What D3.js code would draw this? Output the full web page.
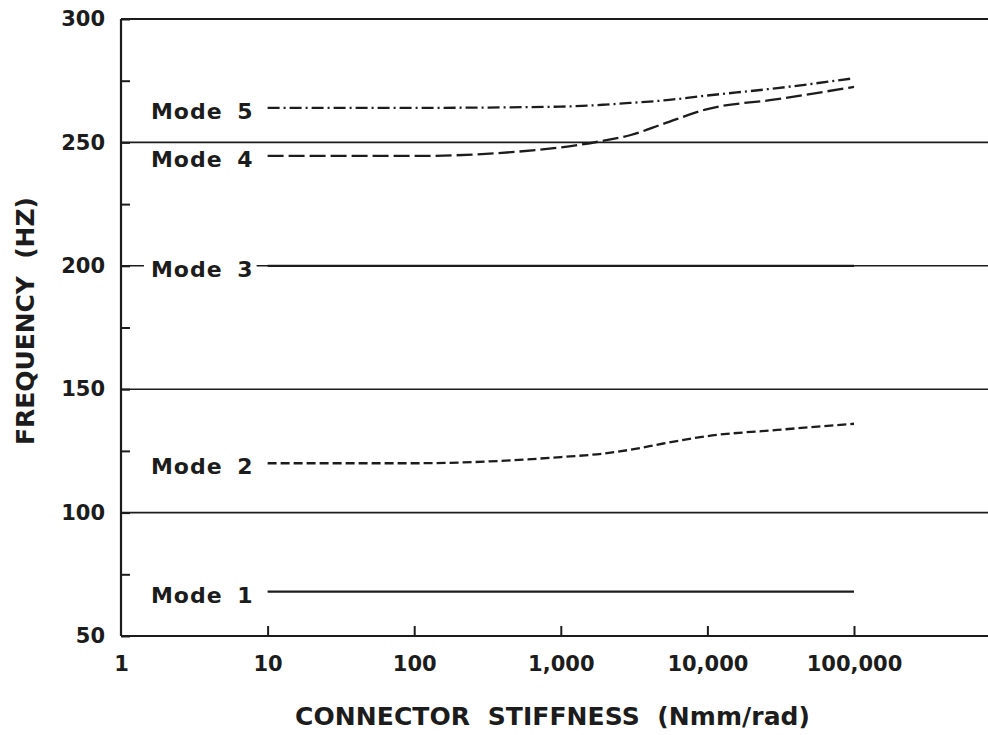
<!DOCTYPE html>
<html>
<head>
<meta charset="utf-8">
<script src="https://cdn.jsdelivr.net/npm/d3@7"></script>
<style>
  html, body { margin: 0; padding: 0; background: #fff; }
  svg text { font-family: "DejaVu Sans", sans-serif; font-weight: bold; fill: #1c1c1c; white-space: pre; }
  .axis path { display: none; }
  .axis line { stroke: #1c1c1c; stroke-width: 2; }
</style>
</head>
<body>
<div id="chart"></div>
<script>
"use strict";

// Data
// ------------------------

var stiffness = [10, 100, 1000, 2000, 3000, 5000, 10000, 30000, 100000];

var mode1 = [68, 68, 68, 68, 68, 68, 68, 68, 68];
var mode2 = [120, 120, 122.5, 124, 125.5, 128, 131, 133.5, 136];
var mode3 = [200, 200, 200, 200, 200, 200, 200, 200, 200];
var mode4 = [244.5, 244.5, 248, 250.8, 253, 257.5, 263.5, 267.5, 272.5];
var mode5 = [264, 264, 264.5, 265.3, 266, 267, 269, 272, 276];

var modeNames = ["Mode 1", "Mode 2", "Mode 3", "Mode 4", "Mode 5"];

var xTicks = [1, 10, 100, 1000, 10000, 100000];
var xTickLabels = ["1", "10", "100", "1,000", "10,000", "100,000"];
var yTicks = [50, 75, 100, 125, 150, 175, 200, 225, 250, 275, 300];
var yGrid = [100, 150, 200, 250, 300];

var xTitle = "CONNECTOR  STIFFNESS  (Nmm/rad)";
var yTitle = "FREQUENCY  (HZ)";


// Box sizing
// ----------

var W = 988, H = 735,
    mLeft = 121, mTop = 19, mBottom = 636,
    xEnd = 854;

var svg = d3.select("#chart").append("svg")
    .attr("width", W)
    .attr("height", H);

var x = d3.scaleLog().domain([1, 100000]).range([mLeft, xEnd]);
var y = d3.scaleLinear().domain([50, 300]).range([mBottom, mTop]);

var ink = "#1c1c1c";


// Grid lines and frame

svg.append("g").selectAll("line")
    .data(yGrid)
    .join("line")
    .attr("x1", mLeft).attr("x2", W)
    .attr("y1", function(d){ return y(d) })
    .attr("y2", function(d){ return y(d) })
    .attr("stroke", ink)
    .attr("stroke-width", function(d){ return d == 300 ? 2 : 1.6 });

svg.append("line")
    .attr("x1", mLeft).attr("x2", W)
    .attr("y1", mBottom).attr("y2", mBottom)
    .attr("stroke", ink).attr("stroke-width", 2.2);

svg.append("line")
    .attr("x1", mLeft).attr("x2", mLeft)
    .attr("y1", mTop).attr("y2", mBottom)
    .attr("stroke", ink).attr("stroke-width", 2.2);


// Axes

var xAxis = d3.axisBottom(x)
    .tickValues(xTicks)
    .tickFormat(function(d, i){ return xTickLabels[i] })
    .tickSizeInner(-10).tickSizeOuter(0)
    .tickPadding(20);

svg.append("g")
    .attr("class", "axis")
    .attr("transform", "translate(0," + mBottom + ")")
    .call(xAxis)
    .call(function(g){ g.selectAll("text").style("font-size", "21px") })
    .call(function(g){ g.selectAll(".tick").filter(function(d){ return d == 1 }).select("line").remove() });

var yAxis = d3.axisLeft(y)
    .tickValues(yTicks)
    .tickFormat(function(d){ return d % 50 == 0 ? d : "" })
    .tickSizeInner(-9).tickSizeOuter(0)
    .tickPadding(16);

svg.append("g")
    .attr("class", "axis")
    .attr("transform", "translate(" + mLeft + ",0)")
    .call(yAxis)
    .call(function(g){ g.selectAll("text").style("font-size", "21px") });


// Axis titles

svg.append("text")
    .attr("x", 295)
    .attr("y", 725)
    .attr("textLength", 515)
    .attr("lengthAdjust", "spacing")
    .style("font-size", "25px")
    .text(xTitle);

svg.append("text")
    .attr("transform", "translate(34,445) rotate(-90)")
    .attr("textLength", 248)
    .attr("lengthAdjust", "spacing")
    .style("font-size", "25px")
    .text(yTitle);


// Curves
// ------

var series = [
  { name: modeNames[0], values: mode1, dash: null },
  { name: modeNames[1], values: mode2, dash: "9,4" },
  { name: modeNames[2], values: mode3, dash: null },
  { name: modeNames[3], values: mode4, dash: "16,5" },
  { name: modeNames[4], values: mode5, dash: "12,4,2,4" }
];

var line = d3.line()
    .x(function(d){ return x(d[0]) })
    .y(function(d){ return y(d[1]) })
    .curve(d3.curveMonotoneX);

series.forEach(function(s) {
  var pts = stiffness.map(function(k, i){ return [k, s.values[i]] });

  svg.append("path")
      .attr("d", line(pts))
      .attr("fill", "none")
      .attr("stroke", ink)
      .attr("stroke-width", 2.3)
      .attr("stroke-dasharray", s.dash);

  var lbl = svg.append("text")
      .attr("x", x(10) - 14)
      .attr("y", y(s.values[0]))
      .attr("dy", "0.5em")
      .attr("text-anchor", "end")
      .style("font-size", "22px")
      .style("letter-spacing", "1px")
      .style("word-spacing", "6px")
      .text(s.name);

  // Mode 3 sits on the 200 grid line: knock the line out behind the label
  if (s.values[0] == 200) {
    var b = lbl.node().getBBox();
    svg.insert("rect", function(){ return lbl.node() })
        .attr("x", b.x - 7).attr("y", b.y)
        .attr("width", b.width + 10).attr("height", b.height)
        .attr("fill", "#fff");
  }
});

</script>
</body>
</html>
